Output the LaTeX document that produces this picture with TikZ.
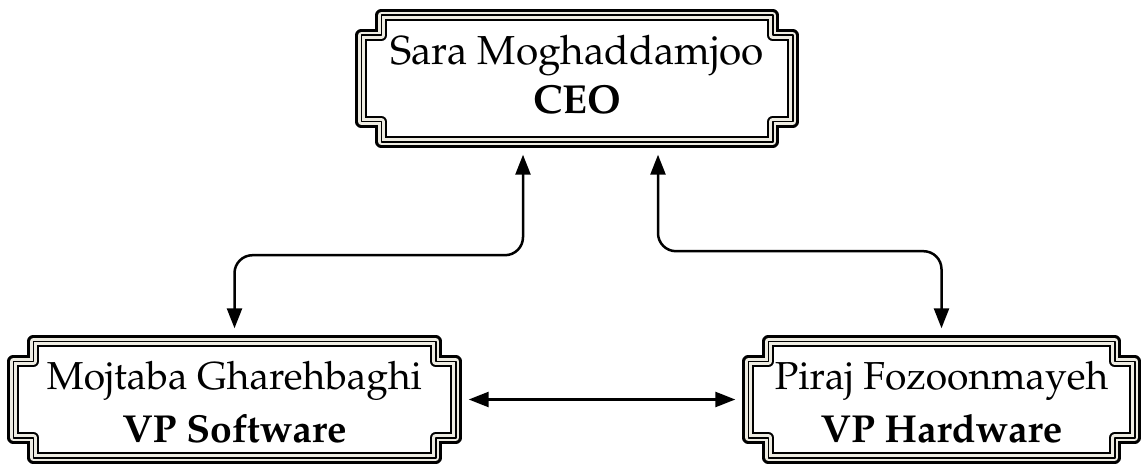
\documentclass[tikz,border=0pt]{standalone}
\usepackage[T1]{fontenc}
\usepackage{mathpazo}
\usetikzlibrary{arrows.meta}
\definecolor{plaquegap}{RGB}{238,236,226}
\newcommand{\plaque}[1]{%
  \foreach \w/\c in {12pt/black,7.5pt/plaquegap,1.6pt/black}{%
    \draw[line width=\w, draw=\c, line join=round]
      ([xshift=20pt]#1.north west) -- ([xshift=-20pt]#1.north east)
      -- ([shift={(-20pt,-20pt)}]#1.north east) -- ([yshift=-20pt]#1.north east)
      -- ([yshift=20pt]#1.south east) -- ([shift={(-20pt,20pt)}]#1.south east)
      -- ([xshift=-20pt]#1.south east) -- ([xshift=20pt]#1.south west)
      -- ([shift={(20pt,20pt)}]#1.south west) -- ([yshift=20pt]#1.south west)
      -- ([yshift=-20pt]#1.north west) -- ([shift={(20pt,-20pt)}]#1.north west)
      -- cycle;}}
\begin{document}
\begin{tikzpicture}[x=1pt, y=1pt,
            box/.style={rectangle, inner sep=0pt},
            link/.style={line width=2.5pt, {Triangle[length=20pt,width=15pt]}-{Triangle[length=20pt,width=15pt]}, rounded corners=18pt, shorten <=13pt, shorten >=13pt},
        ]
            \useasboundingbox (0,0) rectangle (1142,-468);
            \node[box, minimum width=431pt, text height=49.5pt, text depth=76.5pt, font=\fontsize{40.5}{49}\selectfont](ceonode) at (577,-78.5) {\begin{tabular}[t]{c} Sara Moghaddamjoo \\ \textbf{CEO} \end{tabular}};
            \node[box, minimum width=442pt, text height=47.5pt, text depth=68.5pt, font=\fontsize{39}{53}\selectfont](swnode) at (234.5,-399.5) {\begin{tabular}[t]{c} Mojtaba Gharehbaghi \\ \textbf{VP Software} \end{tabular}};
            \node[box, minimum width=386pt, text height=47.5pt, text depth=68.5pt, font=\fontsize{39}{53}\selectfont](hwnode) at (941.5,-399.5) {\begin{tabular}[t]{c} Piraj Fozoonmayeh \\ \textbf{VP Hardware} \end{tabular}};
            \plaque{ceonode}
            \plaque{swnode}
            \plaque{hwnode}
            \draw[link] ([xshift=-54pt]ceonode.south) -- ++(0,-113.5) -| (swnode.north);
            \draw[link] ([xshift=81pt]ceonode.south) -- ++(0,-109.5) -| (hwnode.north);
            \draw[link] (swnode.east) -- (hwnode.west);
        \end{tikzpicture}
\end{document}
